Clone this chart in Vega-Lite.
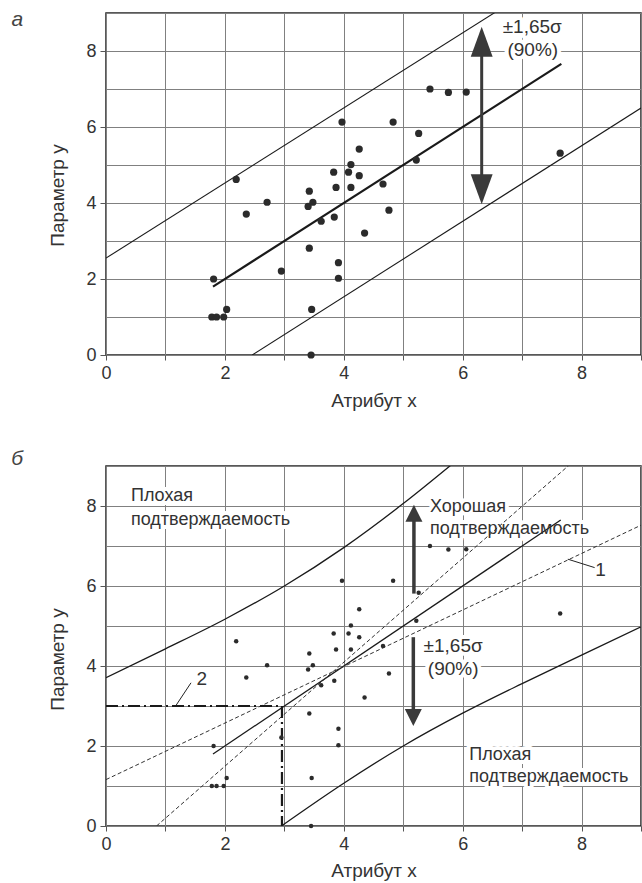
{
  "$schema": "https://vega.github.io/schema/vega-lite/v6.json",
  "background": "white",
  "padding": {"left": 10, "top": 3, "right": 0, "bottom": 0},
  "spacing": 36,
  "config": {
    "font": "Liberation Sans",
    "view": {"stroke": "#222", "strokeWidth": 1.5},
    "axis": {
      "domain": false,
      "grid": true,
      "gridColor": "#808080",
      "gridWidth": 1,
      "gridOpacity": 1,
      "tickColor": "#555",
      "tickSize": 5,
      "labelFont": "Liberation Sans",
      "labelFontSize": 18,
      "labelColor": "#333",
      "labelPadding": 4,
      "labelFlush": false,
      "labelOverlap": false,
      "titleFont": "Liberation Sans",
      "titleFontSize": 19,
      "titleFontWeight": "normal",
      "titleColor": "#333"
    }
  },
  "datasets": {
    "pts": [
      {"x": 2.19, "y": 4.62}, {"x": 2.36, "y": 3.71}, {"x": 2.71, "y": 4.02}, {"x": 1.81, "y": 2.0},
      {"x": 1.78, "y": 1.0}, {"x": 1.86, "y": 1.0}, {"x": 1.98, "y": 1.0}, {"x": 2.03, "y": 1.2},
      {"x": 2.95, "y": 2.21}, {"x": 3.42, "y": 4.31}, {"x": 3.40, "y": 3.91}, {"x": 3.48, "y": 4.02},
      {"x": 3.62, "y": 3.52}, {"x": 3.42, "y": 2.81}, {"x": 3.46, "y": 1.2}, {"x": 3.45, "y": 0.0},
      {"x": 3.83, "y": 4.81}, {"x": 3.87, "y": 4.41}, {"x": 3.84, "y": 3.63}, {"x": 3.91, "y": 2.43},
      {"x": 3.91, "y": 2.02}, {"x": 3.97, "y": 6.13}, {"x": 4.08, "y": 4.81}, {"x": 4.12, "y": 5.01},
      {"x": 4.12, "y": 4.41}, {"x": 4.26, "y": 4.72}, {"x": 4.26, "y": 5.42}, {"x": 4.35, "y": 3.21},
      {"x": 4.66, "y": 4.5}, {"x": 4.76, "y": 3.81}, {"x": 4.83, "y": 6.13}, {"x": 5.26, "y": 5.83},
      {"x": 5.22, "y": 5.13}, {"x": 5.45, "y": 7.0}, {"x": 5.76, "y": 6.91}, {"x": 6.06, "y": 6.92},
      {"x": 7.64, "y": 5.31}
    ],
    "lines": [
      {"p": "a", "s": "fit", "x": 1.8, "y": 1.8}, {"p": "a", "s": "fit", "x": 7.66, "y": 7.66},
      {"p": "a", "s": "up", "x": 0, "y": 2.55}, {"p": "a", "s": "up", "x": 6.65, "y": 9.12},
      {"p": "a", "s": "lo", "x": 2.46, "y": 0}, {"p": "a", "s": "lo", "x": 9, "y": 6.5},
      {"p": "b", "s": "fit", "x": 1.8, "y": 1.8}, {"p": "b", "s": "fit", "x": 7.65, "y": 7.65},
      {"p": "b", "s": "upC", "x": 0, "y": 3.71}, {"p": "b", "s": "upC", "x": 1, "y": 4.43},
      {"p": "b", "s": "upC", "x": 2, "y": 5.17}, {"p": "b", "s": "upC", "x": 3, "y": 6.0},
      {"p": "b", "s": "upC", "x": 4, "y": 6.96}, {"p": "b", "s": "upC", "x": 5, "y": 8.06},
      {"p": "b", "s": "upC", "x": 5.85, "y": 9.08},
      {"p": "b", "s": "loC", "x": 2.95, "y": 0}, {"p": "b", "s": "loC", "x": 4, "y": 1.07},
      {"p": "b", "s": "loC", "x": 5, "y": 2.0}, {"p": "b", "s": "loC", "x": 6, "y": 2.82},
      {"p": "b", "s": "loC", "x": 7, "y": 3.56}, {"p": "b", "s": "loC", "x": 8, "y": 4.27},
      {"p": "b", "s": "loC", "x": 9, "y": 4.98},
      {"p": "b", "s": "dA", "x": 0, "y": 1.16}, {"p": "b", "s": "dA", "x": 9, "y": 7.52},
      {"p": "b", "s": "dB", "x": 0.85, "y": 0}, {"p": "b", "s": "dB", "x": 7.82, "y": 9.06}
    ],
    "segs": [
      {"p": "a", "k": "shaft", "x": 6.32, "y": 4.6, "x2": 6.32, "y2": 8.0},
      {"p": "b", "k": "shaft", "x": 5.18, "y": 5.81, "x2": 5.18, "y2": 7.75},
      {"p": "b", "k": "shaft", "x": 5.17, "y": 2.75, "x2": 5.17, "y2": 4.72},
      {"p": "b", "k": "dashdot", "x": 0, "y": 3, "x2": 2.96, "y2": 3},
      {"p": "b", "k": "dashdot", "x": 2.96, "y": 3, "x2": 2.96, "y2": 0},
      {"p": "b", "k": "leader", "x": 1.18, "y": 3.02, "x2": 1.43, "y2": 3.58},
      {"p": "b", "k": "leader", "x": 7.77, "y": 6.67, "x2": 8.22, "y2": 6.46}
    ],
    "heads": [
      {"p": "a", "x": 6.32, "y": 8.64, "dir": "upL"},
      {"p": "a", "x": 6.32, "y": 3.97, "dir": "downL"},
      {"p": "b", "x": 5.18, "y": 8.03, "dir": "upS"},
      {"p": "b", "x": 5.17, "y": 2.5, "dir": "downS"}
    ],
    "txtC": [
      {"p": "a", "x": 7.17, "y": 8.64, "t": "±1,65σ"},
      {"p": "a", "x": 7.18, "y": 8.03, "t": "(90%)"},
      {"p": "b", "x": 5.84, "y": 4.5, "t": "±1,65σ"},
      {"p": "b", "x": 5.84, "y": 3.93, "t": "(90%)"},
      {"p": "b", "x": 8.32, "y": 6.41, "t": "1"},
      {"p": "b", "x": 1.61, "y": 3.68, "t": "2"}
    ],
    "txtL": [
      {"p": "b", "x": 0.42, "y": 8.24, "t": "Плохая"},
      {"p": "b", "x": 0.42, "y": 7.66, "t": "подтверждаемость"},
      {"p": "b", "x": 5.45, "y": 7.98, "t": "Хорошая"},
      {"p": "b", "x": 5.45, "y": 7.42, "t": "подтверждаемость"},
      {"p": "b", "x": 6.11, "y": 1.77, "t": "Плохая"},
      {"p": "b", "x": 6.11, "y": 1.23, "t": "подтверждаемость"}
    ]
  },
  "vconcat": [
    {
      "width": 535,
      "height": 342,
      "title": {"text": "а", "orient": "left", "anchor": "end", "angle": 0, "align": "right", "baseline": "top", "fontSize": 21, "fontStyle": "italic", "fontWeight": "normal", "color": "#444", "offset": 14, "dy": 5, "font": "Liberation Sans"},
      "encoding": {
        "x": {"field": "x", "type": "quantitative", "title": "Атрибут x",
              "scale": {"domain": [0, 9], "nice": false, "zero": false},
              "axis": {"values": [0, 1, 2, 3, 4, 5, 6, 7, 8, 9], "labelExpr": "datum.value % 2 === 0 ? datum.label : ''", "titlePadding": 9}},
        "y": {"field": "y", "type": "quantitative", "title": "Параметр y",
              "scale": {"domain": [0, 9], "nice": false, "zero": false},
              "axis": {"values": [0, 1, 2, 3, 4, 5, 6, 7, 8, 9], "labelExpr": "datum.value % 2 === 0 ? datum.label : ''", "tickSize": 6,
                       "tickOpacity": {"condition": {"test": "datum.value % 2 === 1", "value": 0}, "value": 1},
                       "titlePadding": 18, "titleY": 182}}
      },
      "layer": [
        {"data": {"name": "txtC"}, "transform": [{"filter": "datum.p === 'a'"}],
         "mark": {"type": "text", "fontSize": 19, "fill": "white", "stroke": "white", "strokeWidth": 8, "strokeJoin": "round", "align": "center", "baseline": "middle"},
         "encoding": {"text": {"field": "t"}}},
        {"data": {"name": "lines"}, "transform": [{"filter": "datum.p === 'a' && datum.s === 'fit'"}],
         "mark": {"type": "line", "color": "#1a1a1a", "strokeWidth": 2.2, "clip": true},
         "encoding": {"detail": {"field": "s"}}},
        {"data": {"name": "lines"}, "transform": [{"filter": "datum.p === 'a' && datum.s !== 'fit'"}],
         "mark": {"type": "line", "color": "#1a1a1a", "strokeWidth": 1.1, "clip": true},
         "encoding": {"detail": {"field": "s"}}},
        {"data": {"name": "pts"},
         "mark": {"type": "point", "filled": true, "color": "#2b2b2b", "size": 52, "opacity": 1}},
        {"data": {"name": "segs"}, "transform": [{"filter": "datum.p === 'a' && datum.k === 'shaft'"}],
         "mark": {"type": "rule", "color": "#3a3a3a", "strokeWidth": 3},
         "encoding": {"x2": {"field": "x2"}, "y2": {"field": "y2"}}},
        {"data": {"name": "heads"}, "transform": [{"filter": "datum.p === 'a'"}],
         "mark": {"type": "point", "filled": true, "color": "#3a3a3a", "size": 900, "opacity": 1},
         "encoding": {"shape": {"field": "dir", "type": "nominal", "legend": null,
           "scale": {"domain": ["upL", "downL", "upS", "downS"], "range": ["M0,0L-0.73,2L0.73,2Z", "M0,0L-0.73,-2L0.73,-2Z", "M0,0L-0.5,1L0.5,1Z", "M0,0L-0.5,-1L0.5,-1Z"]}}}},
        {"data": {"name": "txtC"}, "transform": [{"filter": "datum.p === 'a'"}],
         "mark": {"type": "text", "fontSize": 19, "color": "#333", "align": "center", "baseline": "middle"},
         "encoding": {"text": {"field": "t"}}}
      ]
    },
    {
      "width": 535,
      "height": 360,
      "title": {"text": "б", "orient": "left", "anchor": "end", "angle": 0, "align": "right", "baseline": "top", "fontSize": 21, "fontStyle": "italic", "fontWeight": "normal", "color": "#444", "offset": 14, "dy": -9, "font": "Liberation Sans"},
      "encoding": {
        "x": {"field": "x", "type": "quantitative", "title": "Атрибут x",
              "scale": {"domain": [0, 9], "nice": false, "zero": false},
              "axis": {"values": [0, 1, 2, 3, 4, 5, 6, 7, 8, 9], "labelExpr": "datum.value % 2 === 0 ? datum.label : ''", "titlePadding": 8}},
        "y": {"field": "y", "type": "quantitative", "title": "Параметр y",
              "scale": {"domain": [0, 9], "nice": false, "zero": false},
              "axis": {"values": [0, 1, 2, 3, 4, 5, 6, 7, 8, 9], "labelExpr": "datum.value % 2 === 0 ? datum.label : ''", "tickSize": 6,
                       "tickOpacity": {"condition": {"test": "datum.value % 2 === 1", "value": 0}, "value": 1},
                       "titlePadding": 18, "titleY": 193}}
      },
      "layer": [
        {"data": {"name": "txtC"}, "transform": [{"filter": "datum.p === 'b'"}],
         "mark": {"type": "text", "fontSize": 19, "fill": "white", "stroke": "white", "strokeWidth": 8, "strokeJoin": "round", "align": "center", "baseline": "middle"},
         "encoding": {"text": {"field": "t"}}},
        {"data": {"name": "txtL"}, "transform": [{"filter": "datum.p === 'b'"}],
         "mark": {"type": "text", "fontSize": 18, "fill": "white", "stroke": "white", "strokeWidth": 8, "strokeJoin": "round", "align": "left", "baseline": "middle"},
         "encoding": {"text": {"field": "t"}}},
        {"data": {"name": "lines"}, "transform": [{"filter": "datum.p === 'b' && (datum.s === 'fit' || datum.s === 'upC' || datum.s === 'loC')"}],
         "mark": {"type": "line", "color": "#1a1a1a", "strokeWidth": 1.3, "interpolate": "monotone", "clip": true},
         "encoding": {"detail": {"field": "s"}}},
        {"data": {"name": "lines"}, "transform": [{"filter": "datum.p === 'b' && (datum.s === 'dA' || datum.s === 'dB')"}],
         "mark": {"type": "line", "color": "#333", "strokeWidth": 1, "strokeDash": [4, 2.5], "clip": true},
         "encoding": {"detail": {"field": "s"}}},
        {"data": {"name": "segs"}, "transform": [{"filter": "datum.p === 'b' && datum.k === 'dashdot'"}],
         "mark": {"type": "rule", "color": "#1a1a1a", "strokeWidth": 2.2, "strokeDash": [12, 4, 2, 4]},
         "encoding": {"x2": {"field": "x2"}, "y2": {"field": "y2"}}},
        {"data": {"name": "segs"}, "transform": [{"filter": "datum.p === 'b' && datum.k === 'leader'"}],
         "mark": {"type": "rule", "color": "#222", "strokeWidth": 1},
         "encoding": {"x2": {"field": "x2"}, "y2": {"field": "y2"}}},
        {"data": {"name": "pts"},
         "mark": {"type": "point", "filled": true, "color": "#2b2b2b", "size": 20, "opacity": 1}},
        {"data": {"name": "segs"}, "transform": [{"filter": "datum.p === 'b' && datum.k === 'shaft'"}],
         "mark": {"type": "rule", "color": "#3a3a3a", "strokeWidth": 3.5},
         "encoding": {"x2": {"field": "x2"}, "y2": {"field": "y2"}}},
        {"data": {"name": "heads"}, "transform": [{"filter": "datum.p === 'b'"}],
         "mark": {"type": "point", "filled": true, "color": "#3a3a3a", "size": 1156, "opacity": 1},
         "encoding": {"shape": {"field": "dir", "type": "nominal", "legend": null,
           "scale": {"domain": ["upL", "downL", "upS", "downS"], "range": ["M0,0L-0.73,2L0.73,2Z", "M0,0L-0.73,-2L0.73,-2Z", "M0,0L-0.5,1L0.5,1Z", "M0,0L-0.5,-1L0.5,-1Z"]}}}},
        {"data": {"name": "txtC"}, "transform": [{"filter": "datum.p === 'b'"}],
         "mark": {"type": "text", "fontSize": 19, "color": "#333", "align": "center", "baseline": "middle"},
         "encoding": {"text": {"field": "t"}}},
        {"data": {"name": "txtL"}, "transform": [{"filter": "datum.p === 'b'"}],
         "mark": {"type": "text", "fontSize": 18, "color": "#333", "align": "left", "baseline": "middle"},
         "encoding": {"text": {"field": "t"}}}
      ]
    }
  ]
}
